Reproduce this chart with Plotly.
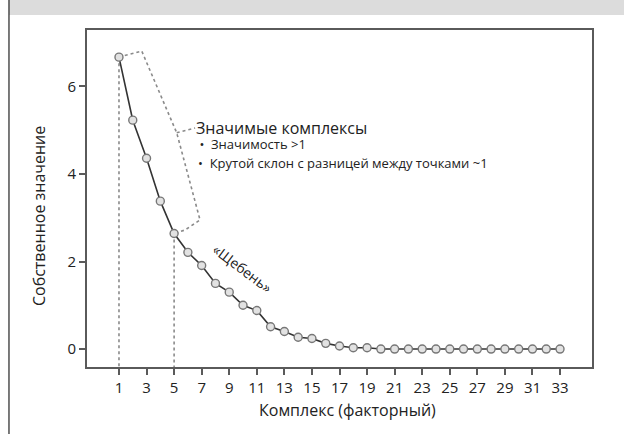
import plotly.graph_objects as go

components = list(range(1, 34))
eigenvalues = [6.67, 5.23, 4.36, 3.38, 2.64, 2.21, 1.91, 1.50, 1.30, 1.00, 0.88,
               0.51, 0.40, 0.27, 0.24, 0.13, 0.07, 0.03, 0.03, 0.0, 0.0, 0.0,
               0.0, 0.0, 0.0, 0.0, 0.0, 0.0, 0.0, 0.0, 0.0, 0.0, 0.0]
x_ticks = list(range(1, 34, 2))
y_ticks = [0, 2, 4, 6]

# bracket outline around the significant components
bracket_x = [1, 2.65, 5.19, 6.88, 5.79, 5]
bracket_y = [6.67, 6.81, 4.94, 2.95, 2.72, 2.64]
pointer_x = [5.19, 6.52]
pointer_y = [4.94, 5.05]

FONT = "Open Sans"
dot = dict(color="#8a8a8a", width=1.6, dash="dot")

fig = go.Figure()

# vertical dotted lines from components 1 and 5 to the axis
for xv, yv in [(1, eigenvalues[0]), (5, eigenvalues[4])]:
    fig.add_trace(go.Scatter(x=[xv, xv], y=[yv, -0.41], mode="lines",
                             line=dot, showlegend=False, hoverinfo="skip"))

fig.add_trace(go.Scatter(x=bracket_x, y=bracket_y, mode="lines", line=dot,
                         showlegend=False, hoverinfo="skip"))
fig.add_trace(go.Scatter(x=pointer_x, y=pointer_y, mode="lines", line=dot,
                         showlegend=False, hoverinfo="skip"))

fig.add_trace(go.Scatter(
    x=components, y=eigenvalues, mode="lines+markers",
    line=dict(color="#333333", width=1.6),
    marker=dict(symbol="circle", size=8, color="#e2e2e2",
                line=dict(color="#777777", width=1.4)),
    showlegend=False))

fig.add_annotation(x=6.55, y=4.88,
                   text=("<span style='font-size:16px'>Значимые комплексы</span><br>"
                         "<span style='font-size:13px'> •  Значимость >1</span>"),
                   showarrow=False, align="left",
                   xanchor="left", yanchor="middle", borderpad=0,
                   font=dict(family=FONT, size=11.6, color="#222"))
fig.add_annotation(x=6.65, y=4.24, text="•  Крутой склон с разницей между точками ~1",
                   showarrow=False, xanchor="left", yanchor="middle", borderpad=0,
                   font=dict(family=FONT, size=13, color="#222"))
fig.add_annotation(x=10.0, y=1.85, text="«Щебень»", showarrow=False, textangle=37,
                   font=dict(family=FONT, size=14, color="#222"))

# axis titles placed as in the reference
fig.add_annotation(xref="paper", yref="paper", x=-0.095, y=0.448,
                   xanchor="center", yanchor="middle",
                   text="Собственное значение", showarrow=False, textangle=-90,
                   font=dict(family=FONT, size=16, color="#222"))
fig.add_annotation(xref="paper", yref="paper", x=0.515, y=-0.128,
                   xanchor="center", yanchor="middle",
                   text="Комплекс (факторный)", showarrow=False,
                   font=dict(family=FONT, size=16, color="#222"))

# header band and left border of the figure
fig.add_shape(type="rect", xref="paper", yref="paper",
              x0=-0.1545, x1=1.07, y0=1.0445, y1=1.1, line=dict(width=0),
              fillcolor="#dcdcdc", layer="below")
fig.add_shape(type="line", xref="paper", yref="paper",
              x0=-0.1545, x1=-0.1545, y0=-0.25, y1=1.1,
              line=dict(color="#222", width=1.2))

axis_common = dict(showline=True, mirror=True, linecolor="#5a5a5a", linewidth=2,
                   ticks="outside", ticklen=6, tickcolor="#5a5a5a", tickwidth=2,
                   showgrid=False, zeroline=False,
                   tickfont=dict(family=FONT, size=15, color="#222"))

fig.update_xaxes(range=[-1.32, 35.32], tickvals=x_ticks, **axis_common)
fig.update_yaxes(range=[-0.41, 7.29], tickvals=y_ticks, **axis_common)

fig.update_layout(width=624, height=434,
                  margin=dict(l=87, r=32, t=30, b=67),
                  paper_bgcolor="white", plot_bgcolor="white")

fig.write_html("out.html", config={"displayModeBar": False},
               post_script="document.body.style.margin='0';document.body.style.overflow='hidden';")
